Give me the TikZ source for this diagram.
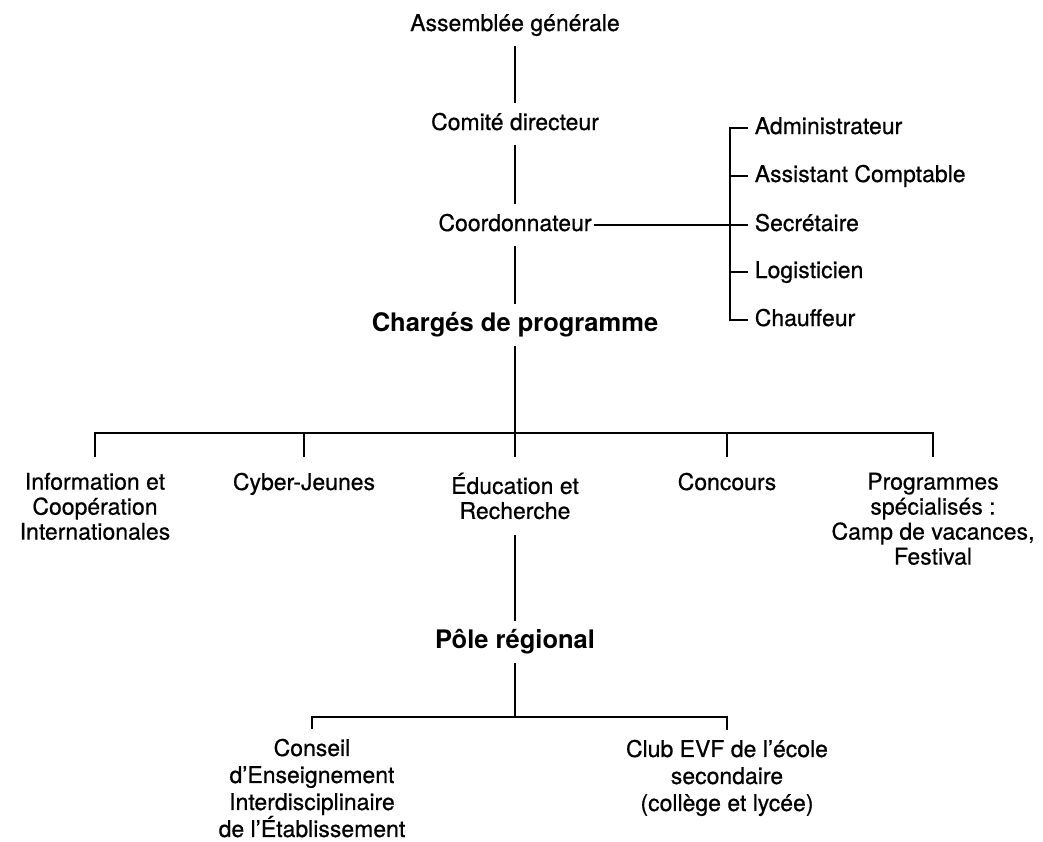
\documentclass[tikz,border=0pt]{standalone}
\usepackage{fontspec}
\setmainfont{TeX Gyre Heros}
\newfontfamily\medfont{TeX Gyre Heros}[FakeBold=0.6]
\begin{document}
\begin{tikzpicture}[x=0.5pt,y=-0.5pt,line width=0.8pt]
\tikzstyle{lvl} = [inner xsep=1pt, inner ysep=4.5pt, text height=8.5pt, text depth=2.5pt, font=\medfont\fontsize{11.5}{13}\selectfont];
\tikzstyle{head} = [lvl, text height=9.5pt, text depth=3pt, inner ysep=4pt, font=\bfseries\fontsize{12.75}{14}\selectfont];
\tikzstyle{staff} = [lvl, anchor=west, inner xsep=3pt];
\tikzstyle{prog} = [anchor=north, align=center, inner ysep=7.5pt, font=\medfont\fontsize{11.5}{12.5}\selectfont];
\tikzstyle{club} = [prog, inner ysep=4.5pt, font=\medfont\fontsize{11.5}{13.5}\selectfont];

\useasboundingbox (0,0) rectangle (1043,841);

% direction
\node[lvl] (ag) at (515,25) {Assemblée générale};
\node[lvl] (cd) at (515,124) {Comité directeur};
\node[lvl] (co) at (515,225) {Coordonnateur};
\node[head] (cp) at (515,325) {Chargés de programme};
\draw (ag) -- (cd);
\draw (cd) -- (co);
\draw (co) -- (cp);

% staff
\coordinate (brk) at (730,225);
\foreach \i/\y/\t in {1/128/Administrateur,2/176/Assistant Comptable,3/225/Secrétaire,4/272/Logisticien,5/320/Chauffeur}
	\node[staff] (s-\i) at (748,\y) {\t};
\draw (co) -- (brk);
\draw (s-1.west) -| (brk) |- (s-5.west);
\foreach \i in {2,3,4}
	\draw (s-\i.west) -- (s-\i.west -| brk);

% programmes
\coordinate (bar) at (515,433);
\foreach \i/\x/\t in {1/95/{Information et\\Coopération\\Internationales},2/304/{Cyber-Jeunes},3/515/{Éducation et\\Recherche},4/727/{Concours},5/933/{Programmes\\spécialisés :\\Camp de vacances,\\Festival}}
	\node[prog] (p-\i) at (\x,457) {\t};
\draw (cp) -- (bar);
\draw (p-1.north) |- (bar) -| (p-5.north);
\foreach \i in {2,3,4}
	\draw (p-\i.north) -- (bar -| p-\i.north);

% pole regional
\node[head] (pr) at (515,642) {Pôle régional};
\draw (p-3) -- (pr);
\coordinate (bar2) at (515,717);
\node[club] (u-1) at (312,729) {Conseil\\d’Enseignement\\Interdisciplinaire\\de l’Établissement};
\node[club] (u-2) at (727,730) {Club EVF de l’école\\secondaire\\(collège et lycée)};
\draw (pr) -- (bar2);
\draw (u-1.north) |- (bar2) -| (u-2.north);
\end{tikzpicture}
\end{document}
